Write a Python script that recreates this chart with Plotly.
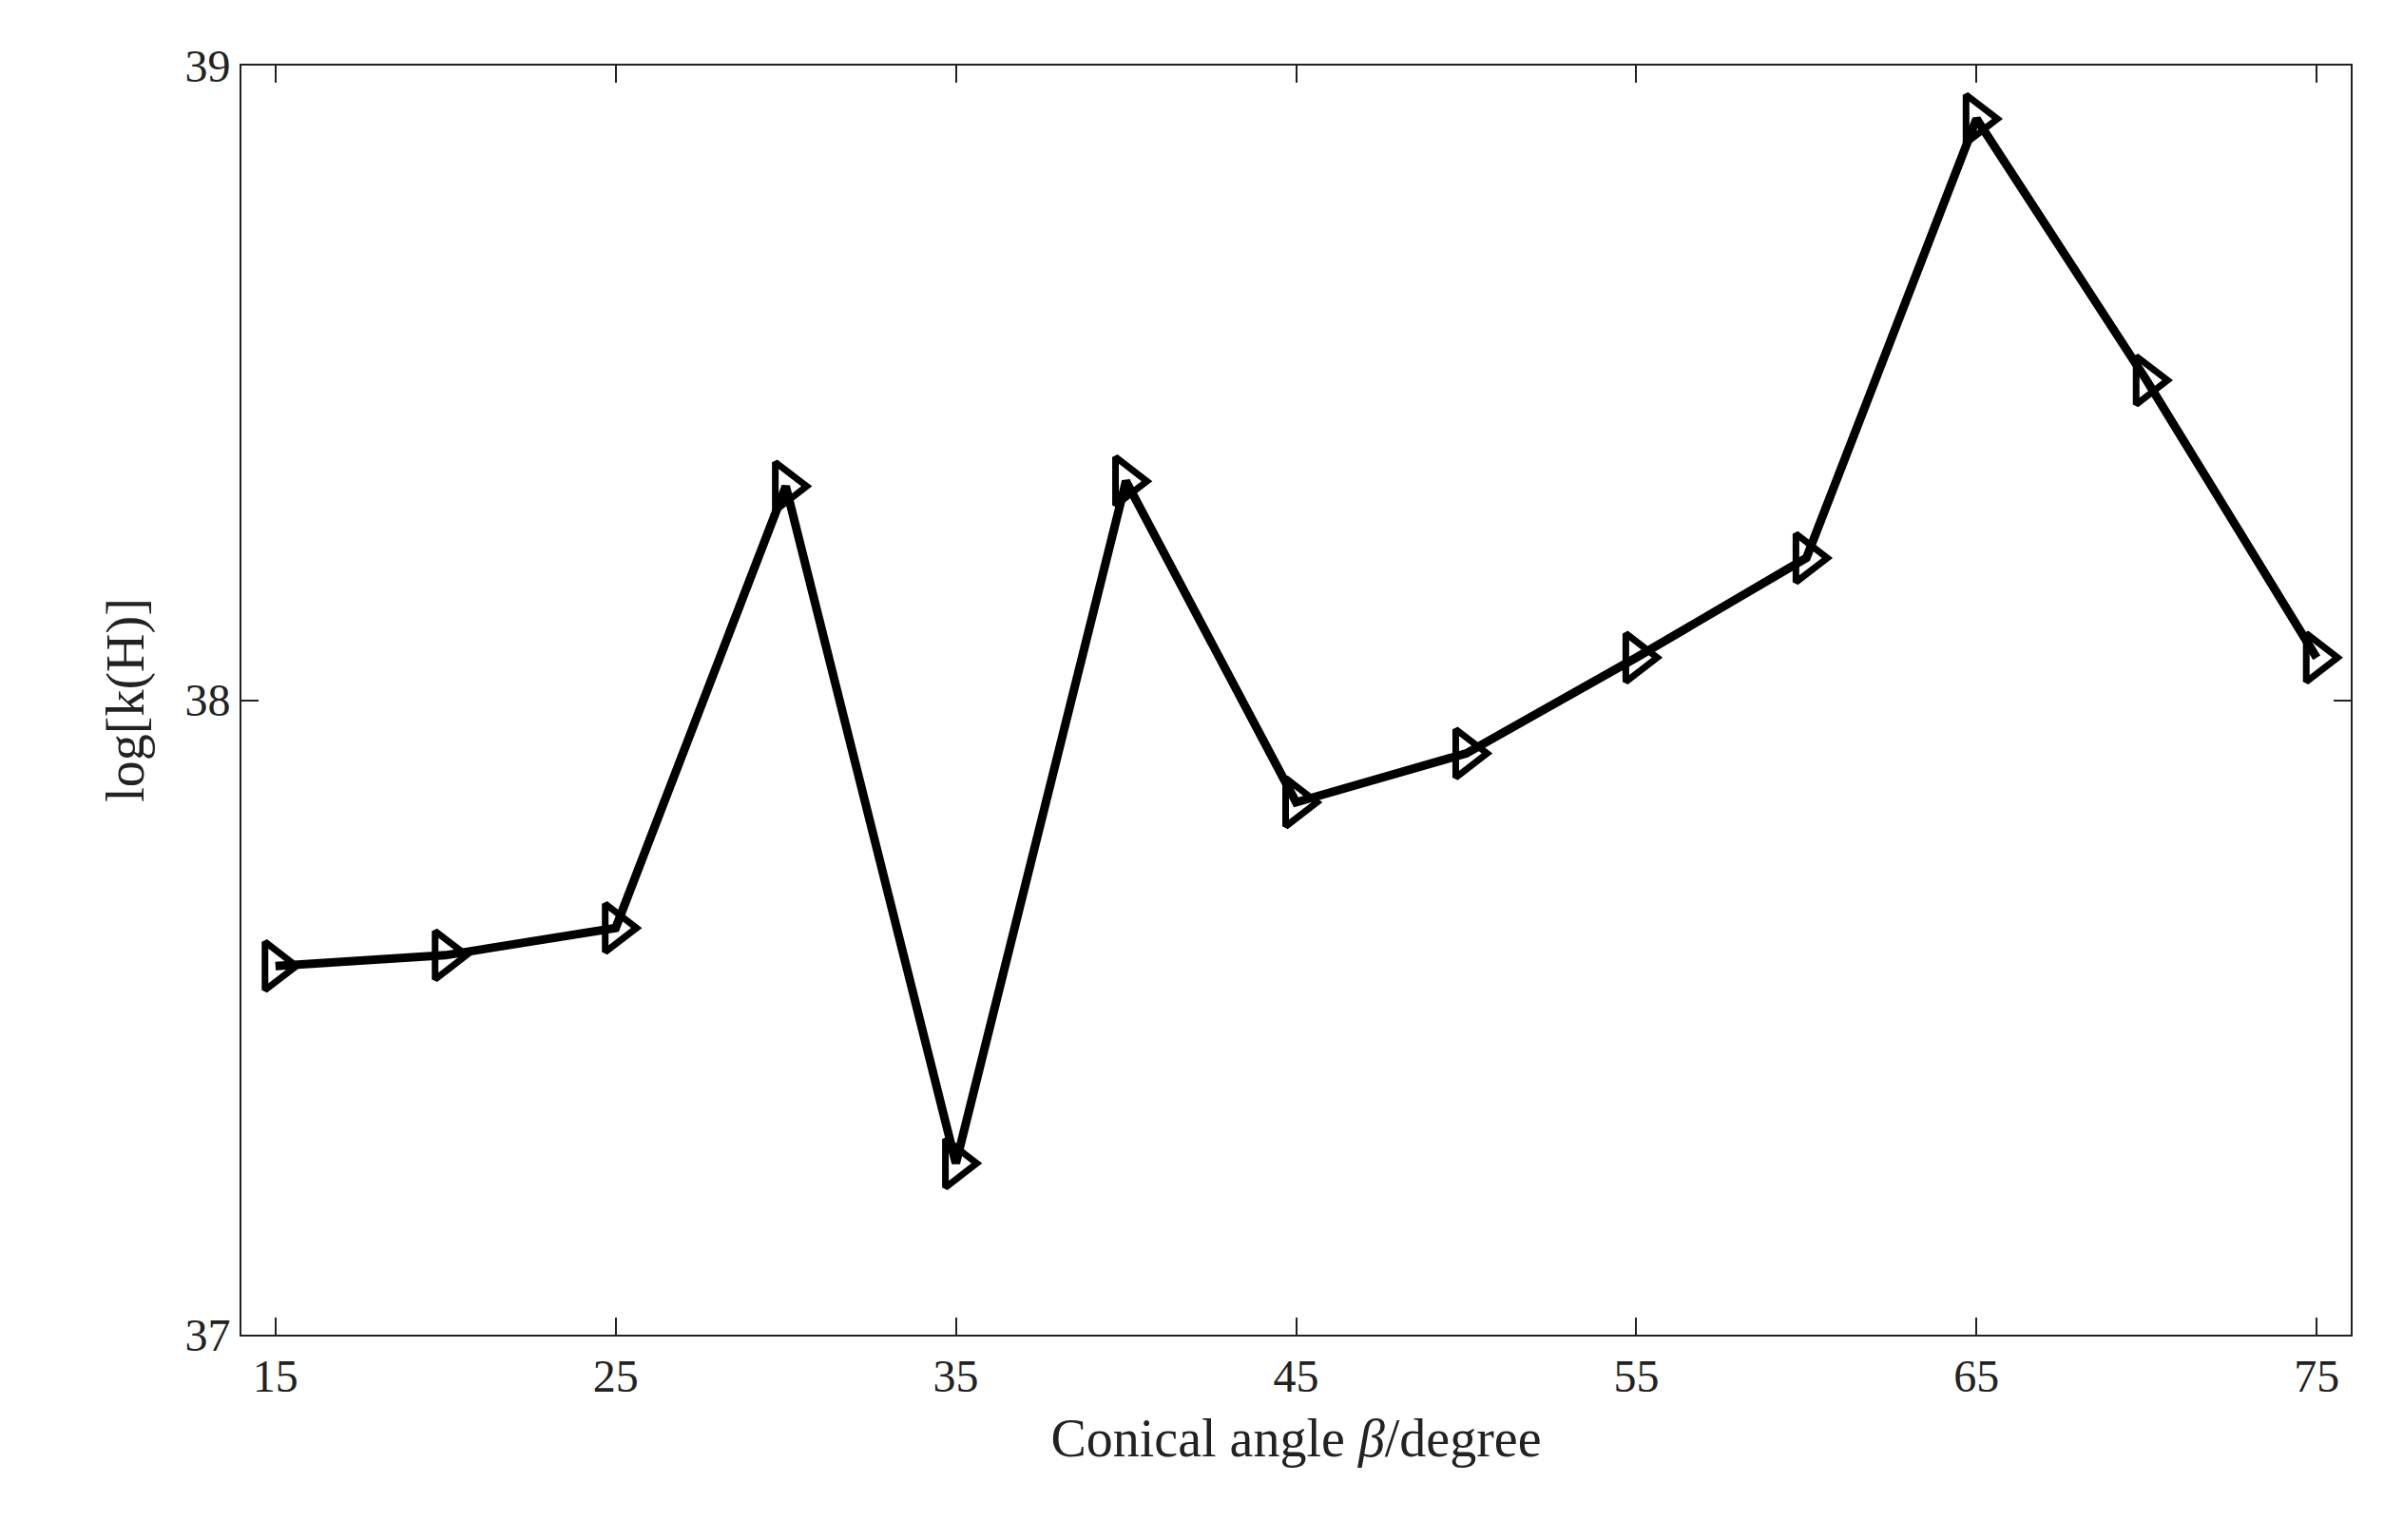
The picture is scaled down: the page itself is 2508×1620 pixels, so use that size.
import plotly.graph_objects as go

angles = [15, 20, 25, 30, 35, 40, 45, 50, 55, 60, 65, 70, 75]
logkH = [37.581, 37.598, 37.641, 38.337, 37.270, 38.345, 37.839, 37.916, 38.067, 38.224, 38.916, 38.504, 38.067]
xticks = [15, 25, 35, 45, 55, 65, 75]
yticks = [37, 38, 39]

fig = go.Figure(go.Scatter(
    x=angles, y=logkH, mode="lines+markers",
    line=dict(color="black", width=9),
    marker=dict(symbol="triangle-right-open", size=44, color="black", line=dict(width=7, color="black")),
))
font = dict(family="Liberation Serif, Times New Roman, serif", color="#222")
axis_common = dict(showgrid=False, zeroline=False, showline=True, linecolor="#222", linewidth=2,
                   mirror="ticks", ticks="inside", ticklen=18, tickwidth=2, tickcolor="#222",
                   tickfont=dict(size=48, **font))
fig.update_xaxes(range=[14, 76], tickvals=xticks, **axis_common,
                 title=dict(text="Conical angle <i>β</i>/degree", font=dict(size=56, **font), standoff=20))
fig.update_yaxes(range=[37, 39], tickvals=yticks, **axis_common,
                 title=dict(text="log[k(H)]", font=dict(size=56, **font), standoff=25))
fig.update_layout(width=2508, height=1620, plot_bgcolor="white", paper_bgcolor="white",
                  showlegend=False, margin=dict(l=246, r=43, t=61, b=224))
fig.write_html("out.html")
